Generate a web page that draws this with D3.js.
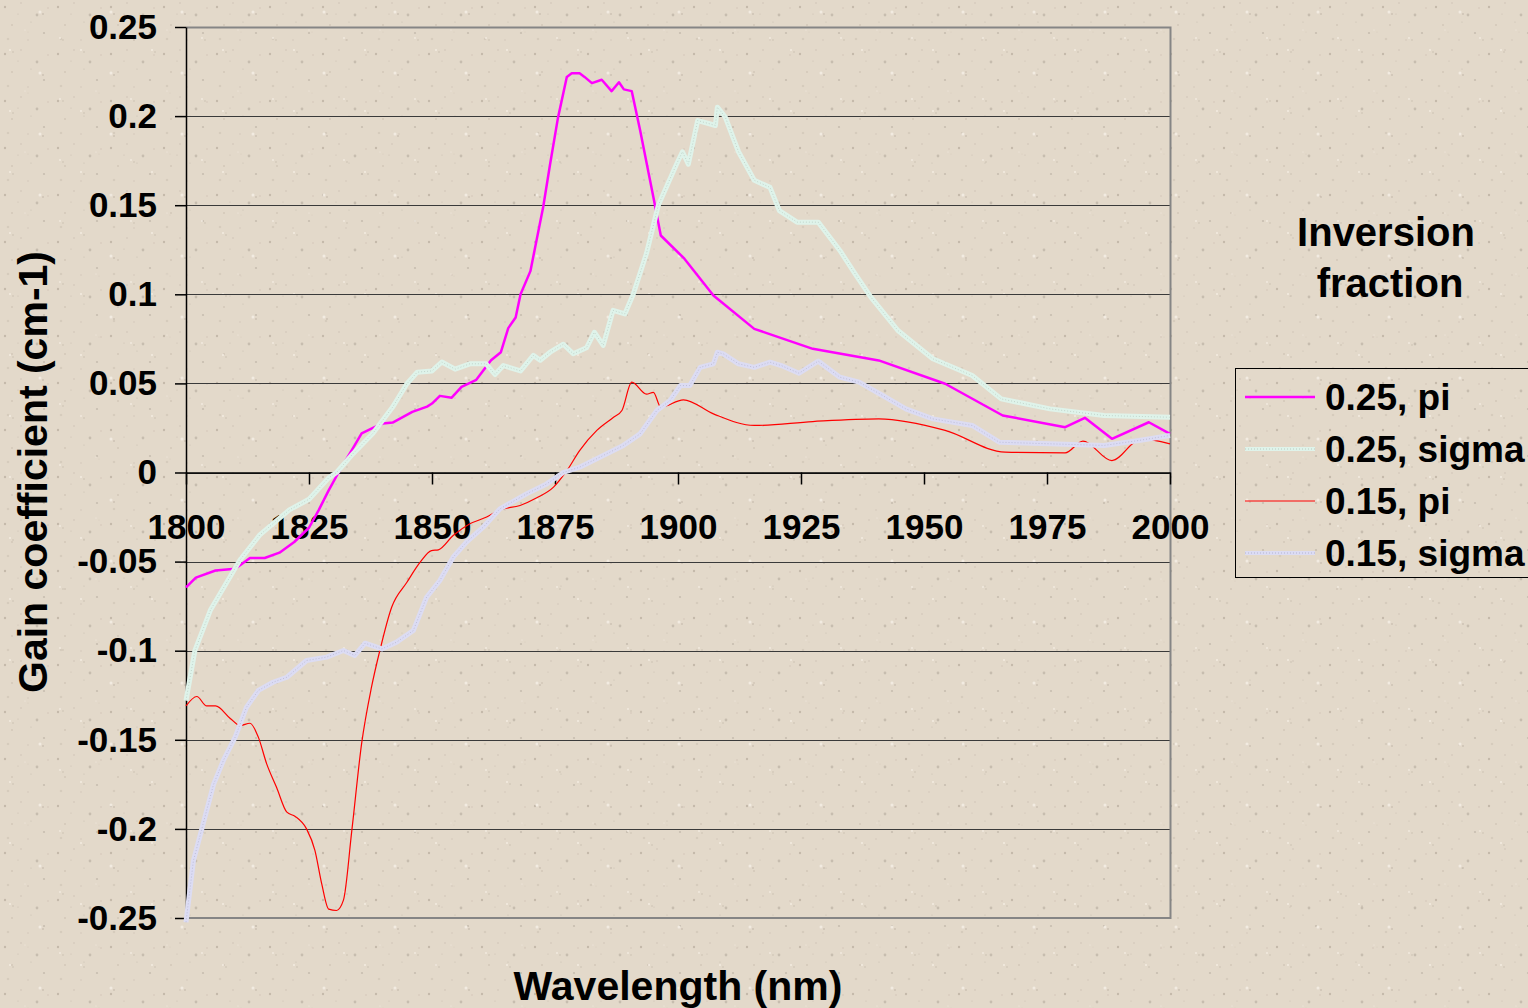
<!DOCTYPE html>
<html>
<head>
<meta charset="utf-8">
<script src="https://cdn.jsdelivr.net/npm/d3@7"></script>
<style>
  body { margin: 0; background: #e4dacb; }
  svg text { font-family: "Liberation Sans", Arial, sans-serif; font-weight: bold; fill: #000; }
</style>
</head>
<body>
<div id="chart-area"></div>
<script>
// wavelength (nm), gain coefficient (cm-1)
const piHigh = [[1800,-0.0645],[1802,-0.059],[1806,-0.055],[1810,-0.054],[1813,-0.048],[1816,-0.048],[1819,-0.045],[1822,-0.039],[1825,-0.031],[1827,-0.021],[1829,-0.010],[1831,0],[1834,0.014],[1835.7,0.022],[1838,0.025],[1840,0.0275],[1842,0.028],[1846,0.034],[1849,0.037],[1850,0.0387],[1851.6,0.043],[1854,0.042],[1856,0.048],[1859,0.052],[1862,0.063],[1864,0.0675],[1865.5,0.081],[1867,0.087],[1868,0.100],[1870,0.113],[1872.6,0.149],[1874,0.173],[1875.6,0.199],[1877.4,0.222],[1878.4,0.224],[1880,0.224],[1881,0.222],[1882.5,0.2185],[1884.5,0.2204],[1886.5,0.214],[1888,0.219],[1889,0.215],[1890.6,0.214],[1892.3,0.192],[1895,0.1545],[1896.5,0.133],[1901.3,0.120],[1907.2,0.0993],[1915.5,0.0806],[1927.4,0.0694],[1940.8,0.0629],[1954.3,0.0498],[1966,0.032],[1978.7,0.0254],[1982.7,0.0307],[1988.2,0.0189],[1995.7,0.0282],[2000,0.0217]]
const sigmaHigh = [[1800,-0.128],[1801.8,-0.10],[1805,-0.077],[1808,-0.063],[1811,-0.049],[1815,-0.035],[1821,-0.021],[1825,-0.015],[1829,-0.003],[1830.6,0],[1834,0.0107],[1838,0.022],[1842,0.0367],[1844.9,0.0498],[1847,0.0563],[1850,0.057],[1852,0.062],[1854.7,0.058],[1857.7,0.061],[1861,0.061],[1862.8,0.055],[1864.5,0.060],[1868,0.057],[1870.6,0.0657],[1872,0.063],[1874,0.0675],[1876.7,0.072],[1878.7,0.0666],[1881.4,0.070],[1883,0.0787],[1884.8,0.0713],[1886.8,0.091],[1889.2,0.089],[1890.9,0.100],[1893.6,0.123],[1896,0.150],[1899.7,0.173],[1900.9,0.180],[1902.1,0.173],[1904,0.1975],[1906.4,0.1957],[1907.6,0.1947],[1908,0.205],[1909.6,0.1995],[1912.3,0.180],[1915.5,0.164],[1918.7,0.160],[1920.6,0.147],[1924.2,0.1405],[1928.5,0.1405],[1932.9,0.1246],[1936,0.1115],[1939.2,0.0984],[1944.7,0.0797],[1951.8,0.0638],[1959.8,0.0544],[1965.7,0.0413],[1975.6,0.0357],[1986.6,0.032],[2000,0.031]]
const piLow = [[1800,-0.131],[1802.2,-0.1257],[1804.2,-0.131],[1806,-0.131],[1809,-0.138],[1811,-0.142],[1813,-0.1407],[1814.7,-0.1485],[1816.4,-0.1635],[1818.4,-0.1766],[1820.5,-0.1906],[1822.2,-0.193],[1824.5,-0.200],[1826.2,-0.212],[1827.6,-0.231],[1829,-0.245],[1830.6,-0.2458],[1832,-0.240],[1833.7,-0.201],[1835.7,-0.152],[1837.7,-0.1205],[1839.4,-0.0999],[1841.8,-0.0756],[1844.9,-0.0616],[1847.6,-0.0503],[1849.9,-0.0438],[1851.3,-0.0434],[1854.3,-0.0354],[1857.7,-0.0288],[1861.1,-0.025],[1863.8,-0.021],[1867.9,-0.0185],[1871.3,-0.0142],[1874.7,-0.0082],[1877.4,0.001],[1880,0.0123],[1883.5,0.0236],[1886.9,0.031],[1888.6,0.0348],[1890.6,0.0507],[1893.6,0.044],[1895,0.045],[1896.5,0.0367],[1901.1,0.0408],[1907.2,0.0329],[1915.5,0.0264],[1927.4,0.0286],[1940.8,0.0301],[1954.3,0.0236],[1966.5,0.0114],[1978.7,0.011],[1982.3,0.0176],[1988.2,0.0067],[1994.1,0.0189],[2000,0.0161]]
const sigmaLow = [[1800,-0.2524],[1801.5,-0.218],[1803.5,-0.197],[1805.6,-0.175],[1807.6,-0.1616],[1810,-0.1485],[1812.3,-0.1317],[1814.7,-0.1223],[1817.7,-0.1177],[1820.5,-0.1149],[1824.5,-0.1055],[1828.6,-0.1036],[1832,-0.0999],[1834.3,-0.1027],[1836.4,-0.0958],[1839.8,-0.099],[1842.8,-0.0952],[1846.2,-0.0887],[1848.9,-0.070],[1851.6,-0.0606],[1854.3,-0.0475],[1857,-0.0391],[1860.4,-0.0307],[1863.8,-0.0204],[1869.2,-0.012],[1873.3,-0.0064],[1876.7,0],[1880,0.003],[1884.1,0.0086],[1888.9,0.0152],[1892.3,0.0217],[1895.7,0.0348],[1898.4,0.0404],[1900.5,0.0488],[1902.4,0.0488],[1904.5,0.059],[1907.2,0.061],[1908,0.0675],[1909.2,0.0666],[1912.3,0.061],[1915.5,0.059],[1918.7,0.0619],[1921,0.060],[1924.6,0.0557],[1928.5,0.0625],[1932.9,0.0535],[1936.8,0.0507],[1941.6,0.0432],[1946.3,0.0357],[1951.8,0.0301],[1959.8,0.0264],[1965.3,0.017],[1975.6,0.0161],[1986.6,0.0152],[1993.7,0.018],[2000,0.0208]]

const seriesNames = ["0.25, pi", "0.25, sigma", "0.15, pi", "0.15, sigma"]
const xTicks = [1800,1825,1850,1875,1900,1925,1950,1975,2000]
const yTicks = [-0.25,-0.2,-0.15,-0.1,-0.05,0,0.05,0.1,0.15,0.2,0.25]

const W = 1528, H = 1008
const PLOT = { LEFT: 186, RIGHT: 1170, TOP: 27, BOTTOM: 918 }

const svg = d3.select("#chart-area").append("svg")
    .attr("width", W)
    .attr("height", H)

// speckled paper background
const defs = svg.append("defs")
const pat = defs.append("pattern")
    .attr("id", "paper").attr("width", 53).attr("height", 47)
    .attr("patternUnits", "userSpaceOnUse")
pat.append("rect").attr("width", 53).attr("height", 47).attr("fill", "#e3d9ca")
const specks = [[5,7,1.2,0.35],[21,3,0.8,0.25],[37,15,1.4,0.3],[12,25,0.9,0.2],[44,33,1.1,0.3],[28,40,0.7,0.25],[8,39,1.3,0.15],[31,22,0.6,0.3],[48,8,0.8,0.2],[18,14,0.5,0.35]]
specks.forEach(s => {
    pat.append("circle").attr("cx", s[0]).attr("cy", s[1]).attr("r", s[2])
        .attr("fill", "#8a7f70").attr("opacity", s[3])
})
const pat2 = defs.append("pattern")
    .attr("id", "paper2").attr("width", 71).attr("height", 61)
    .attr("patternUnits", "userSpaceOnUse")
;[[10,50,1.0,0.3],[40,12,1.5,0.2],[60,38,0.9,0.3],[25,30,0.6,0.25]].forEach(s => {
    pat2.append("circle").attr("cx", s[0]).attr("cy", s[1]).attr("r", s[2])
        .attr("fill", "#f4eee4").attr("opacity", 0.9)
    pat2.append("circle").attr("cx", s[0] + 3).attr("cy", s[1] + 2).attr("r", s[2] * 0.7)
        .attr("fill", "#7a705f").attr("opacity", s[3])
})
svg.append("rect").attr("width", W).attr("height", H).attr("fill", "url(#paper)")
svg.append("rect").attr("width", W).attr("height", H).attr("fill", "url(#paper2)")

const x = d3.scaleLinear().domain([1800, 2000]).range([PLOT.LEFT, PLOT.RIGHT])
const y = d3.scaleLinear().domain([-0.25, 0.25]).range([PLOT.BOTTOM, PLOT.TOP])

// gridlines
svg.append("g").selectAll("line")
    .data(yTicks.filter(v => v > -0.25 && v < 0.25))
    .enter().append("line")
    .attr("x1", PLOT.LEFT).attr("x2", PLOT.RIGHT)
    .attr("y1", d => Math.round(y(d)) + 0.5).attr("y2", d => Math.round(y(d)) + 0.5)
    .attr("stroke", "#3a3a3a").attr("stroke-width", 1)

// plot frame (top, right, bottom) in grey
svg.append("path")
    .attr("d", `M${PLOT.LEFT},${PLOT.TOP + 0.5}H${PLOT.RIGHT + 0.5}V${PLOT.BOTTOM}H${PLOT.LEFT}`)
    .attr("fill", "none").attr("stroke", "#858585").attr("stroke-width", 2)

// excel style labels: plain hyphen for negatives
const yFmt = d => String(+d.toFixed(2)).replace("\u2212", "-")

// y axis
const yAxis = svg.append("g")
    .attr("transform", `translate(${PLOT.LEFT},0)`)
    .call(d3.axisLeft(y).tickValues(yTicks).tickSize(11).tickSizeOuter(0).tickPadding(18)
        .tickFormat(yFmt))
yAxis.selectAll("text").style("font-size", "35px")
yAxis.selectAll("line,path").attr("stroke", "#000").attr("stroke-width", 1.5)

// x axis sits on zero
const xAxis = svg.append("g")
    .attr("transform", `translate(0,${y(0)})`)
    .call(d3.axisBottom(x).tickValues(xTicks).tickSize(12).tickSizeOuter(0).tickPadding(30)
        .tickFormat(d3.format("d")))
xAxis.selectAll("text").style("font-size", "35px")
xAxis.selectAll("line,path").attr("stroke", "#000").attr("stroke-width", 1.5)

const line = d3.line()
    .x(d => x(d[0]))
    .y(d => y(d[1]))
const smoothLine = d3.line()
    .x(d => x(d[0]))
    .y(d => y(d[1]))
    .curve(d3.curveMonotoneX)

// light series are thick with a dotted texture, like the Excel original
const styles = [
    { data: piHigh, color: "#ff00ff", width: 2.5, gen: line },
    { data: sigmaHigh, color: "#dff3ea", width: 5, dots: "#b8ccc2", gen: line },
    { data: piLow, color: "#ff0000", width: 1.2, gen: smoothLine },
    { data: sigmaLow, color: "#dcdcf3", width: 5, dots: "#b4b4d2", gen: line }
]
const g = svg.append("g")
styles.forEach(s => {
    g.append("path").datum(s.data)
        .attr("d", s.gen).attr("fill", "none")
        .attr("stroke", s.color).attr("stroke-width", s.width)
        .attr("stroke-linejoin", "round")
    if (s.dots) {
        g.append("path").datum(s.data)
            .attr("d", s.gen).attr("fill", "none")
            .attr("stroke", s.dots).attr("stroke-width", 1)
            .attr("stroke-dasharray", "1,2").attr("opacity", 0.8)
    }
})

// axis titles
svg.append("text")
    .attr("x", 678).attr("y", 1000)
    .attr("text-anchor", "middle")
    .style("font-size", "41px")
    .text("Wavelength (nm)")
svg.append("text")
    .attr("transform", "translate(47,472) rotate(-90)")
    .attr("text-anchor", "middle")
    .style("font-size", "41px")
    .text("Gain coefficient (cm-1)")

// legend title
svg.append("text")
    .attr("x", 1386).attr("y", 246)
    .attr("text-anchor", "middle")
    .style("font-size", "40px")
    .text("Inversion")
svg.append("text")
    .attr("x", 1390).attr("y", 297)
    .attr("text-anchor", "middle")
    .style("font-size", "40px")
    .text("fraction")

// legend
const legend = svg.append("g").attr("transform", "translate(1235,368)")
legend.append("rect")
    .attr("x", 0.5).attr("y", 0.5).attr("width", 320).attr("height", 209)
    .attr("fill", "none").attr("stroke", "#000").attr("stroke-width", 1)
const items = legend.selectAll("g.item")
    .data(styles)
    .enter().append("g")
    .attr("transform", (d, i) => `translate(0,${29 + i * 52})`)
items.append("line")
    .attr("x1", 10).attr("x2", 80)
    .attr("stroke", d => d.color)
    .attr("stroke-width", d => d.dots ? 4 : d.width)
items.filter(d => d.dots).append("line")
    .attr("x1", 10).attr("x2", 80)
    .attr("stroke", d => d.dots).attr("stroke-width", 1)
    .attr("stroke-dasharray", "1,2")
items.append("text")
    .attr("x", 90).attr("y", 13)
    .style("font-size", "37px")
    .text((d, i) => seriesNames[i])
</script>
</body>
</html>
